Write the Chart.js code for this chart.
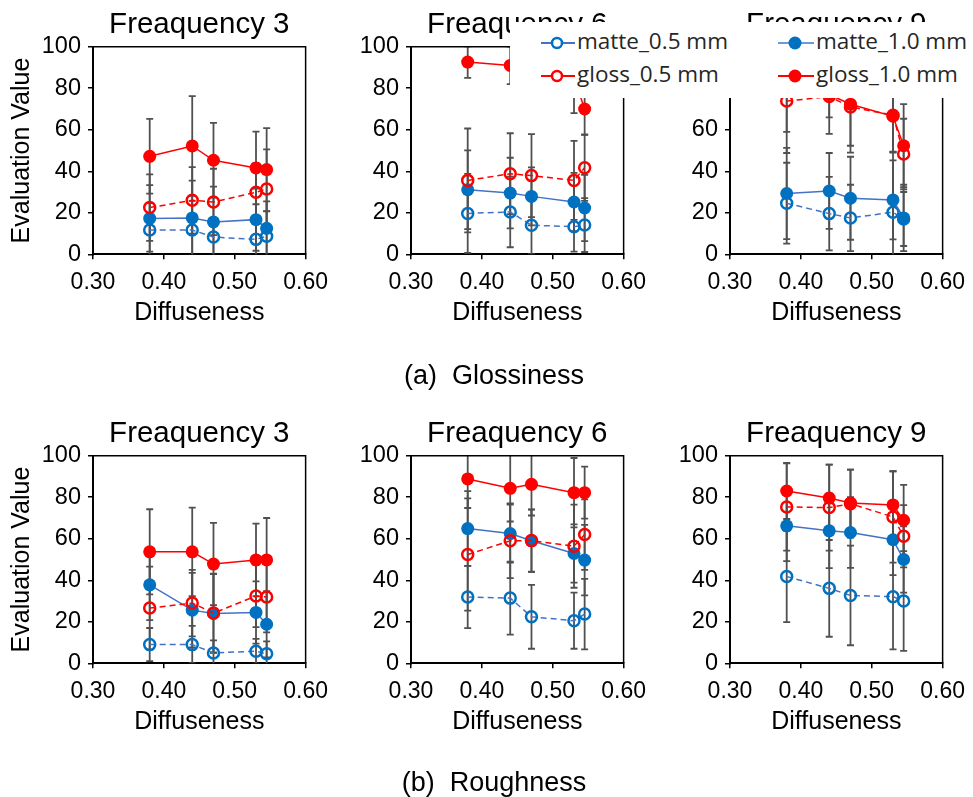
<!DOCTYPE html>
<html>
<head>
<meta charset="utf-8">
<script src="https://cdn.jsdelivr.net/npm/chart.js@4"></script>
<style>
  html, body { margin: 0; padding: 0; background: #fff; }
  body { width: 973px; height: 797px; position: relative; overflow: hidden; }
  canvas { position: absolute; }
  .caption { position: absolute; width: 300px; margin-left: -150px; text-align: center; line-height: 32px;
             font-family: "Liberation Sans", Arial, sans-serif; font-size: 27px; color: #000; white-space: pre; }
  #legend { position: absolute; left: 510px; top: 22px; width: 463px; height: 76px; background: #fff; z-index: 5;
            font-family: "Open Sans", sans-serif; font-size: 22.5px; color: #262626; }
  .item { position: absolute; height: 30px; line-height: 30px; white-space: nowrap; }
  .item svg { position: absolute; left: 0; top: 7px; }
  .item span { position: absolute; left: 36px; top: -2px; }
</style>
</head>
<body>
<canvas id="a1" width="338" height="340" style="left:0px;top:0px"></canvas>
<canvas id="a2" width="338" height="340" style="left:318px;top:0px"></canvas>
<canvas id="a3" width="338" height="340" style="left:637px;top:0px"></canvas>
<canvas id="b1" width="338" height="340" style="left:0px;top:409px"></canvas>
<canvas id="b2" width="338" height="340" style="left:318px;top:409px"></canvas>
<canvas id="b3" width="338" height="340" style="left:637px;top:409px"></canvas>

<div class="caption" style="left:494px;top:359px">(a)  Glossiness</div>
<div class="caption" style="left:494px;top:766px">(b)  Roughness</div>

<div id="legend">
  <div class="item" style="left:31px;top:6px">
    <svg width="34" height="16"><line x1="0" y1="8" x2="34" y2="8" stroke="#4472C4" stroke-width="2"/><circle cx="16" cy="8" r="5" fill="#fff" stroke="#0070C0" stroke-width="2.5"/></svg>
    <span>matte_0.5 mm</span>
  </div>
  <div class="item" style="left:268px;top:6px">
    <svg width="36" height="16"><line x1="0" y1="8" x2="36" y2="8" stroke="#6E9BD8" stroke-width="2"/><circle cx="17" cy="8" r="6.5" fill="#0070C0"/></svg>
    <span style="left:38px">matte_1.0 mm</span>
  </div>
  <div class="item" style="left:31px;top:39px">
    <svg width="34" height="16"><line x1="0" y1="8" x2="34" y2="8" stroke="#FF0000" stroke-width="2"/><circle cx="16" cy="8" r="5" fill="#fff" stroke="#FF0000" stroke-width="2.5"/></svg>
    <span>gloss_0.5 mm</span>
  </div>
  <div class="item" style="left:268px;top:39px">
    <svg width="36" height="16"><line x1="0" y1="8" x2="36" y2="8" stroke="#FF0000" stroke-width="2"/><circle cx="17" cy="8" r="6.5" fill="#FF0000"/></svg>
    <span style="left:38px">gloss_1.0 mm</span>
  </div>
</div>

<script>
// Diffuseness of the five samples (x values, shared by all panels)
const diffuseness = [0.38, 0.44, 0.47, 0.53, 0.545];
const xTicks = [0.30, 0.40, 0.50, 0.60];
const yTicks = [0, 20, 40, 60, 80, 100];

// (a) Glossiness, Freaquency 3
const gloss3Matte05 = [11.7, 11.7, 8.3, 7.2, 8.7];
const gloss3Matte05Err = [13, 14, 9, 9, 12];
const gloss3Matte10 = [17.3, 17.5, 15.6, 16.7, 12.5];
const gloss3Matte10Err = [16, 18, 17, 15, 13];
const gloss3Gloss05 = [22.5, 26.0, 25.2, 29.9, 31.5];
const gloss3Gloss05Err = [16, 16, 16, 14, 19];
const gloss3Gloss10 = [47.2, 52.2, 45.3, 41.6, 40.8];
const gloss3Gloss10Err = [18, 24, 18, 17.5, 20];

// (a) Glossiness, Freaquency 6
const gloss6Matte05 = [19.7, 20.4, 14.0, 13.3, 14.1];
const gloss6Matte05Err = [19, 17, 14, 12, 13];
const gloss6Matte10 = [31.1, 29.5, 27.9, 25.2, 22.3];
const gloss6Matte10Err = [19, 17, 14, 14, 16];
const gloss6Gloss05 = [35.6, 38.8, 37.9, 35.6, 41.7];
const gloss6Gloss05Err = [25, 19.5, 20, 19, 16];
const gloss6Gloss10 = [92.6, 91.0, 90.0, 85.0, 70.0];
const gloss6Gloss10Err = [7.6, 9, 9, 17, 12.5];

// (a) Glossiness, Freaquency 9
const gloss9Matte05 = [24.6, 19.6, 17.5, 20.3, 17.0];
const gloss9Matte05Err = [19.5, 17.7, 16, 29, 13];
const gloss9Matte10 = [29.3, 30.5, 27.0, 26.2, 17.5];
const gloss9Matte10Err = [22, 18.3, 20, 19, 16];
const gloss9Gloss05 = [73.8, 76.0, 71.0, 67.0, 48.3];
const gloss9Gloss05Err = [25, 18, 22, 18, 17];
const gloss9Gloss10 = [79.0, 77.0, 72.3, 66.5, 52.3];
const gloss9Gloss10Err = [20, 11, 20, 17, 20];

// (b) Roughness, Freaquency 3
const rough3Matte05 = [9.0, 9.0, 5.0, 5.8, 4.6];
const rough3Matte05Err = [8, 9, 6, 6, 6];
const rough3Matte10 = [37.8, 25.6, 24.0, 24.5, 18.8];
const rough3Matte10Err = [17, 18, 19, 15, 16];
const rough3Gloss05 = [26.6, 29.0, 24.2, 32.4, 31.9];
const rough3Gloss05Err = [20, 16, 19, 15, 17];
const rough3Gloss10 = [53.7, 53.7, 47.8, 49.8, 49.8];
const rough3Gloss10Err = [20.5, 21.3, 19.8, 17.5, 20.2];

// (b) Roughness, Freaquency 6
const rough6Matte05 = [31.9, 31.4, 22.4, 20.5, 23.7];
const rough6Matte05Err = [15, 17.6, 15.4, 13.5, 17];
const rough6Matte10 = [64.9, 62.5, 59.0, 52.9, 49.7];
const rough6Matte10Err = [18, 14, 15, 14, 17];
const rough6Gloss05 = [52.4, 59.0, 59.1, 56.4, 62.0];
const rough6Gloss05Err = [27, 18, 15, 20, 17];
const rough6Gloss10 = [88.8, 84.3, 86.2, 82.2, 82.2];
const rough6Gloss10Err = [14, 16, 15, 16.7, 12.5];

// (b) Roughness, Freaquency 9
const rough9Matte05 = [41.8, 36.1, 32.7, 32.1, 30.0];
const rough9Matte05Err = [22, 23.3, 24, 25.4, 24];
const rough9Matte10 = [66.2, 63.8, 63.0, 59.5, 50.0];
const rough9Matte10Err = [17, 18, 17, 17, 16];
const rough9Gloss05 = [75.3, 75.0, 76.9, 70.5, 61.2];
const rough9Gloss05Err = [21, 20.7, 16.4, 22, 15];
const rough9Gloss10 = [83.0, 79.6, 77.2, 76.3, 68.9];
const rough9Gloss10Err = [13.5, 16.1, 16.1, 16.2, 17];

Chart.defaults.font.family = '"Liberation Sans", Arial, sans-serif';
Chart.defaults.color = '#000';

// error bars behind the lines, clipped to the plot area
const errorBars = {
  id: 'errorBars',
  beforeDatasetsDraw(chart) {
    const {ctx, chartArea, scales: {x, y}} = chart;
    ctx.save();
    ctx.beginPath();
    ctx.rect(chartArea.left, chartArea.top, chartArea.width, chartArea.height);
    ctx.clip();
    ctx.strokeStyle = '#505050';
    ctx.lineWidth = 1.8;
    chart.data.datasets.forEach(ds => {
      ds.data.forEach((p, i) => {
        const e = ds.errors[i];
        const px = x.getPixelForValue(p.x);
        const top = y.getPixelForValue(p.y + e);
        const bot = y.getPixelForValue(p.y - e);
        ctx.beginPath();
        ctx.moveTo(px, top); ctx.lineTo(px, bot);
        ctx.moveTo(px - 3.5, top); ctx.lineTo(px + 3.5, top);
        ctx.moveTo(px - 3.5, bot); ctx.lineTo(px + 3.5, bot);
        ctx.stroke();
      });
    });
    ctx.restore();
  }
};

// top and right edges of the plot box
const frame = {
  id: 'frame',
  beforeDatasetsDraw(chart) {
    const {ctx, chartArea: a} = chart;
    ctx.save();
    ctx.strokeStyle = '#000';
    ctx.lineWidth = 1.5;
    ctx.beginPath();
    ctx.moveTo(a.left, a.top); ctx.lineTo(a.right, a.top); ctx.lineTo(a.right, a.bottom);
    ctx.stroke();
    ctx.restore();
  }
};

function points(values) {
  return values.map((v, i) => ({ x: diffuseness[i], y: v }));
}

function makeChart(id, title, s, showYTitle) {
  const blueLine = '#4472C4', blue = '#0070C0', red = '#FF0000';
  const datasets = [
    { label: 'matte_0.5 mm', data: points(s[0]), errors: s[1], order: 3,
      borderColor: blueLine, borderWidth: 1.5, borderDash: [6, 4],
      pointRadius: 5.5, pointBorderWidth: 2.5, pointBorderColor: blue, pointBackgroundColor: 'rgba(0,0,0,0)' },
    { label: 'matte_1.0 mm', data: points(s[2]), errors: s[3], order: 2,
      borderColor: blueLine, borderWidth: 1.5,
      pointRadius: 6.5, pointBorderWidth: 0, pointBackgroundColor: blue },
    { label: 'gloss_0.5 mm', data: points(s[4]), errors: s[5], order: 1,
      borderColor: red, borderWidth: 1.5, borderDash: [6, 4],
      pointRadius: 5.5, pointBorderWidth: 2.5, pointBorderColor: red, pointBackgroundColor: 'rgba(0,0,0,0)' },
    { label: 'gloss_1.0 mm', data: points(s[6]), errors: s[7], order: 0,
      borderColor: red, borderWidth: 1.5,
      pointRadius: 6.5, pointBorderWidth: 0, pointBackgroundColor: red }
  ];
  datasets.forEach(d => { d.tension = 0; d.fill = false; });

  const axisGrid = { display: true, drawOnChartArea: false, drawTicks: true, tickLength: 5, color: '#000', lineWidth: 1.5 };
  const axisBorder = { display: true, color: '#000', width: 2 };

  new Chart(document.getElementById(id), {
    type: 'line',
    data: { datasets: datasets },
    options: {
      responsive: false,
      animation: false,
      layout: { padding: { top: 3.6, right: 26, bottom: 0, left: 0 } },
      plugins: {
        legend: { display: false },
        tooltip: { enabled: false },
        title: { display: true, fullSize: false, text: title, font: { size: 29.5, weight: 'normal' }, color: '#000',
                 padding: { top: 4, bottom: 3.7 } }
      },
      scales: {
        x: {
          type: 'linear', min: 0.3, max: 0.6,
          afterBuildTicks: sc => { sc.ticks = xTicks.map(v => ({ value: v })); },
          afterFit: sc => { sc.height = 85.7; },
          ticks: { font: { size: 23 }, color: '#000', padding: 10, maxRotation: 0, autoSkip: false,
                   callback: v => Number(v).toFixed(2) },
          grid: axisGrid, border: axisBorder,
          title: { display: true, text: 'Diffuseness', font: { size: 25 }, color: '#000', padding: { top: 0, bottom: 12 } }
        },
        y: {
          min: 0, max: 100,
          afterBuildTicks: sc => { sc.ticks = yTicks.map(v => ({ value: v })); },
          afterFit: sc => { sc.width = 93; },
          ticks: { font: { size: 23.5 }, color: '#000', padding: 7 },
          grid: axisGrid, border: axisBorder,
          title: { display: showYTitle, text: 'Evaluation Value', font: { size: 25 }, color: '#000', padding: { top: 7, bottom: 0 } }
        }
      }
    },
    plugins: [errorBars, frame]
  });
}

makeChart('a1', 'Freaquency 3', [gloss3Matte05, gloss3Matte05Err, gloss3Matte10, gloss3Matte10Err, gloss3Gloss05, gloss3Gloss05Err, gloss3Gloss10, gloss3Gloss10Err], true);
makeChart('a2', 'Freaquency 6', [gloss6Matte05, gloss6Matte05Err, gloss6Matte10, gloss6Matte10Err, gloss6Gloss05, gloss6Gloss05Err, gloss6Gloss10, gloss6Gloss10Err], false);
makeChart('a3', 'Freaquency 9', [gloss9Matte05, gloss9Matte05Err, gloss9Matte10, gloss9Matte10Err, gloss9Gloss05, gloss9Gloss05Err, gloss9Gloss10, gloss9Gloss10Err], false);
makeChart('b1', 'Freaquency 3', [rough3Matte05, rough3Matte05Err, rough3Matte10, rough3Matte10Err, rough3Gloss05, rough3Gloss05Err, rough3Gloss10, rough3Gloss10Err], true);
makeChart('b2', 'Freaquency 6', [rough6Matte05, rough6Matte05Err, rough6Matte10, rough6Matte10Err, rough6Gloss05, rough6Gloss05Err, rough6Gloss10, rough6Gloss10Err], false);
makeChart('b3', 'Freaquency 9', [rough9Matte05, rough9Matte05Err, rough9Matte10, rough9Matte10Err, rough9Gloss05, rough9Gloss05Err, rough9Gloss10, rough9Gloss10Err], false);
</script>
</body>
</html>
